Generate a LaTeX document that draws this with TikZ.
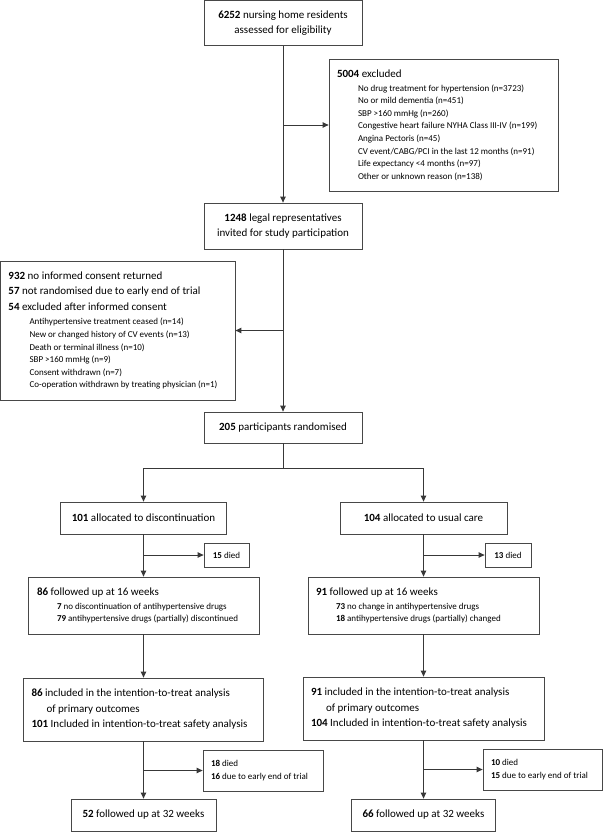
\documentclass[tikz,border=0pt]{standalone}
\usepackage{fontspec}
\setmainfont{Carlito}
\usetikzlibrary{arrows.meta}
\newcommand{\bigf}{\fontsize{11}{15.5}\selectfont}
\newcommand{\smallf}{\fontsize{9}{12.6}\selectfont}
\newcommand{\lbox}[2]{\begin{minipage}{#1pt}\setlength{\parindent}{0pt}#2\end{minipage}}
\begin{document}
\begin{tikzpicture}[x=1pt,y=-1pt,
  box/.style={draw=black!72, line width=0.8pt, inner sep=0pt, align=center, font=\bigf},
  conn/.style={draw=black!78, line width=0.9pt},
  arr/.style={conn, -{Triangle[length=6pt,width=5.5pt]}},
]
\useasboundingbox (0,0) rectangle (603,832);
\fill[white] (0,0) rectangle (603,832);

% main column
\node[box, minimum width=158, minimum height=45] (elig) at (283,23)
  {\textbf{6252} nursing home residents\\assessed for eligibility};
\node[box, minimum width=229, minimum height=132] (excl) at (443.5,125)
  {\lbox{213}{{\fontsize{11}{14}\selectfont\textbf{5004} excluded\par}\vspace{1.5pt}
   {\smallf\leftskip=21pt No drug treatment for hypertension (n=3723)\\
   No or mild dementia (n=451)\\
   SBP >160 mmHg (n=260)\\
   Congestive heart failure NYHA Class III-IV (n=199)\\
   Angina Pectoris (n=45)\\
   CV event/CABG/PCI in the last 12 months (n=91)\\
   Life expectancy <4 months (n=97)\\
   Other or unknown reason (n=138)\par}}};
\node[box, minimum width=158, minimum height=46] (invite) at (283,226)
  {\textbf{1248} legal representatives\\invited for study participation};
\node[box, minimum width=234.5, minimum height=139] (consent) at (117.75,330.5)
  {\lbox{218.5}{{\bigf\textbf{932} no informed consent returned\\
   \textbf{57} not randomised due to early end of trial\\
   \textbf{54} excluded after informed consent\par}\vspace{2pt}
   {\smallf\leftskip=21pt Antihypertensive treatment ceased (n=14)\\
   New or changed history of CV events (n=13)\\
   Death or terminal illness (n=10)\\
   SBP >160 mmHg (n=9)\\
   Consent withdrawn (n=7)\\
   Co-operation withdrawn by treating physician (n=1)\par}}};
\node[box, minimum width=158, minimum height=31] (rand) at (283,427.5)
  {\textbf{205} participants randomised};
\coordinate (split) at (283,468);

% left arm
\node[box, minimum width=166, minimum height=32] (alloc1) at (143.5,518)
  {\textbf{101} allocated to discontinuation};
\node[box, minimum width=45, minimum height=24, font=\smallf] (died1) at (226.5,555)
  {\textbf{15} died};
\node[box, minimum width=231, minimum height=57] (fu1) at (143.5,605.5)
  {\lbox{213}{{\bigf\textbf{86} followed up at 16 weeks\par}\vspace{1.5pt}
   {\smallf\leftskip=20pt \textbf{7} no discontinuation of antihypertensive drugs\\
   \textbf{79} antihypertensive drugs (partially) discontinued\par}}};
\node[box, minimum width=240, minimum height=63] (itt1) at (143.5,709.5)
  {\lbox{224}{\bigf\textbf{86} included in the intention-to-treat analysis\\
   \hspace*{15pt}of primary outcomes\\
   \textbf{101} Included in intention-to-treat safety analysis\par}};
\node[box, minimum width=120, minimum height=41] (lost1) at (263,770.5)
  {\lbox{104}{\fontsize{9}{13.3}\selectfont\textbf{18} died\\
   \textbf{16} due to early end of trial\par}};
\node[box, minimum width=145, minimum height=32] (wk1) at (143.5,815)
  {\textbf{52} followed up at 32 weeks};

% right arm
\node[box, minimum width=167, minimum height=32] (alloc2) at (423.5,518)
  {\textbf{104} allocated to usual care};
\node[box, minimum width=46, minimum height=24, font=\smallf] (died2) at (508,555)
  {\textbf{13} died};
\node[box, minimum width=231, minimum height=57] (fu2) at (423.5,605.5)
  {\lbox{215}{{\bigf\textbf{91} followed up at 16 weeks\par}\vspace{1.5pt}
   {\smallf\leftskip=20pt \textbf{73} no change in antihypertensive drugs\\
   \textbf{18} antihypertensive drugs (partially) changed\par}}};
\node[box, minimum width=241, minimum height=63] (itt2) at (423.5,708.5)
  {\lbox{225}{\bigf\textbf{91} included in the intention-to-treat analysis\\
   \hspace*{15pt}of primary outcomes\\
   \textbf{104} Included in intention-to-treat safety analysis\par}};
\node[box, minimum width=119, minimum height=41] (lost2) at (542.5,769.5)
  {\lbox{103}{\fontsize{9}{13.3}\selectfont\textbf{10} died\\
   \textbf{15} due to early end of trial\par}};
\node[box, minimum width=144, minimum height=32] (wk2) at (423.5,815)
  {\textbf{66} followed up at 32 weeks};

% connectors
\draw[arr] (elig.south) -- (invite.north);
\draw[arr] (elig.south |- excl.west) -- (excl.west);
\draw[arr] (invite.south) -- (rand.north);
\draw[arr] (invite.south |- consent.east) -- (consent.east);
\draw[conn] (rand.south) -- (split);
\draw[arr] (split) -| (alloc1.north);
\draw[arr] (split) -| (alloc2.north);

\draw[arr] (alloc1.south) -- (fu1.north);
\draw[arr] (alloc1.south |- died1.west) -- (died1.west);
\draw[arr] (fu1.south) -- (itt1.north);
\draw[arr] (itt1.south) -- (wk1.north);
\draw[arr] (itt1.south |- lost1.west) -- (lost1.west);

\draw[arr] (alloc2.south) -- (fu2.north);
\draw[arr] (alloc2.south |- died2.west) -- (died2.west);
\draw[arr] (fu2.south) -- (itt2.north);
\draw[arr] (itt2.south) -- (wk2.north);
\draw[arr] (itt2.south |- lost2.west) -- (lost2.west);
\end{tikzpicture}
\end{document}
